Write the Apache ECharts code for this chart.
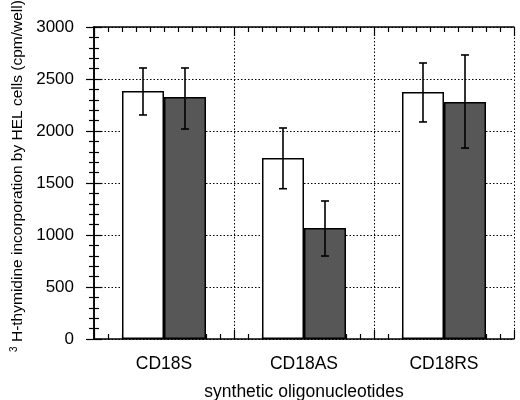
<!DOCTYPE html>
<html>
<head>
<meta charset="utf-8">
<script src="https://cdn.jsdelivr.net/npm/echarts@6/dist/echarts.min.js"></script>
<style>
  html, body { margin: 0; padding: 0; background: #fff; }
  #main { width: 520px; height: 400px; }
</style>
</head>
<body>
<div id="main"></div>
<script>
var categories = ['CD18S', 'CD18AS', 'CD18RS']
var openMean = [2385, 1740, 2375]
var openLow = [2154, 1445, 2087]
var openHigh = [2606, 2029, 2654]
var shadedMean = [2327, 1067, 2279]
var shadedLow = [2019, 798, 1836]
var shadedHigh = [2606, 1327, 2731]

var font = 'Liberation Sans, Arial, Helvetica, sans-serif'
var chart = echarts.init(document.getElementById('main'))

// error bars drawn at the centre of each bar of a pair
function errorSeries(low, high, side) {
  return {
    type: 'custom',
    xAxisIndex: 0,
    yAxisIndex: 0,
    z: 5,
    data: categories.map(function (c, i) { return [i, low[i], high[i]] }),
    renderItem: function (params, api) {
      var band = api.size([1, 0])[0]
      var dx = side * band * 0.15
      var lo = api.coord([api.value(0), api.value(1)])
      var hi = api.coord([api.value(0), api.value(2)])
      var x = lo[0] + dx
      var cap = 4
      var st = { stroke: '#000', lineWidth: 1.6 }
      return {
        type: 'group',
        children: [
          { type: 'line', shape: { x1: x, y1: lo[1], x2: x, y2: hi[1] }, style: st },
          { type: 'line', shape: { x1: x - cap, y1: lo[1], x2: x + cap, y2: lo[1] }, style: st },
          { type: 'line', shape: { x1: x - cap, y1: hi[1], x2: x + cap, y2: hi[1] }, style: st }
        ]
      }
    }
  }
}

var tickAxis = {
  type: 'value', min: 0, max: 3, interval: 1,
  axisLine: { show: true, lineStyle: { color: '#000', width: 1.5 } },
  axisTick: { show: true, inside: true, length: 9, lineStyle: { color: '#000', width: 1.2 } },
  minorTick: { show: true, splitNumber: 10, length: 5, lineStyle: { color: '#000', width: 1.2 } },
  axisLabel: { show: false }
}

var option = {
  animation: false,
  backgroundColor: '#fff',
  grid: { left: 94, right: 6, top: 27, bottom: 61, containLabel: false, outerBoundsMode: 'none' },
  xAxis: [{
    type: 'category',
    data: categories,
    position: 'bottom',
    axisLine: { show: false },
    axisTick: { show: false },
    axisLabel: { color: '#000', fontSize: 17.5, fontFamily: font, margin: 16 },
    name: 'synthetic oligonucleotides',
    nameLocation: 'middle',
    nameGap: 44,
    nameTextStyle: { color: '#000', fontSize: 17.5, fontFamily: font }
  }, Object.assign({}, tickAxis, {
    position: 'bottom',
    splitLine: { show: true, lineStyle: { color: '#000', type: [1.5, 2], width: 1 } }
  }), Object.assign({}, tickAxis, {
    position: 'top',
    splitLine: { show: false }
  })],
  yAxis: [{
    type: 'value', min: 0, max: 3000, interval: 500,
    position: 'left',
    axisLine: { show: true, lineStyle: { color: '#000', width: 1.5 } },
    axisTick: { show: true, inside: true, length: 8, lineStyle: { color: '#000', width: 1.2 } },
    minorTick: { show: true, splitNumber: 5, length: 5, lineStyle: { color: '#000', width: 1.2 } },
    splitLine: { show: true, lineStyle: { color: '#000', type: [1.5, 2], width: 1 } },
    axisLabel: { color: '#000', fontSize: 17, fontFamily: font, margin: 20,
      formatter: function (v) { return String(v) } },
    name: '{sup|3} H-thymidine incorporation by HEL cells (cpm/well)',
    nameLocation: 'middle',
    nameGap: 68,
    nameTextStyle: {
      color: '#000', fontSize: 15.5, fontFamily: font, padding: [0, 0, 0, 14],
      rich: { sup: { fontSize: 10, verticalAlign: 'top', color: '#000', fontFamily: font, padding: [0, 0, 7, 0] } }
    }
  }, {
    type: 'value', min: 0, max: 3000, interval: 500,
    position: 'right',
    axisLine: { show: true, lineStyle: { color: '#000', width: 1.5 } },
    axisTick: { show: true, inside: true, length: 8, lineStyle: { color: '#000', width: 1.2 } },
    minorTick: { show: true, splitNumber: 5, length: 5, lineStyle: { color: '#000', width: 1.2 } },
    splitLine: { show: false },
    axisLabel: { show: false }
  }],
  series: [{
    type: 'bar',
    xAxisIndex: 0, yAxisIndex: 0,
    data: openMean,
    barGap: '0%',
    barCategoryGap: '40%',
    itemStyle: { color: '#fff', borderColor: '#000', borderWidth: 1.5 }
  }, {
    type: 'bar',
    xAxisIndex: 0, yAxisIndex: 0,
    data: shadedMean,
    itemStyle: { color: '#575757', borderColor: '#000', borderWidth: 1.5 }
  },
    errorSeries(openLow, openHigh, -1),
    errorSeries(shadedLow, shadedHigh, 1)
  ]
}

chart.setOption(option)
</script>
</body>
</html>
